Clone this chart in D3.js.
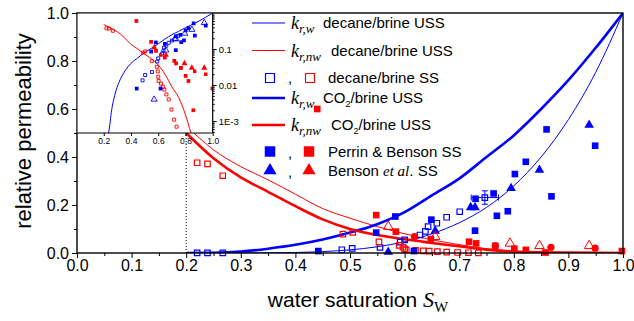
<!DOCTYPE html>
<html><head><meta charset="utf-8">
<script src="https://cdn.jsdelivr.net/npm/d3@7/dist/d3.min.js"></script>
<style>
html,body{margin:0;padding:0;background:#fff;}
svg{display:block;}
text{font-family:"Liberation Sans",Arial,sans-serif;fill:#000;}
</style></head><body>
<svg id="chart" width="634" height="321"></svg>
<script>
// ---------- tick labels ----------
const xTickVals = [0,0.1,0.2,0.3,0.4,0.5,0.6,0.7,0.8,0.9,1.0];
const yTickVals = [0,0.2,0.4,0.6,0.8,1.0];
const insetXTicks = [0.2,0.4,0.6,0.8,1.0];
const insetYTicks = [0.1,0.01,0.001];
const insetYLabels = ["0.1","0.01","1E-3"];

// ---------- model curves (main plot) ----------
const swGrid     = [0.2,0.25,0.3,0.35,0.4,0.45,0.5,0.55,0.6,0.65,0.7,0.75,0.8,0.85,0.9,0.95,1.0];
const krwDecane  = [0,0,0.0001,0.0006,0.0022,0.006,0.013,0.026,0.047,0.08,0.126,0.19,0.28,0.40,0.556,0.753,1.0];
const krnwDecane = [0.53,0.43,0.36,0.305,0.245,0.185,0.145,0.11,0.08,0.055,0.035,0.018,0.008,0.003,0.001,0.0002,0];
const krwCO2     = [0,0.001,0.006,0.018,0.034,0.056,0.085,0.12,0.17,0.24,0.31,0.40,0.49,0.60,0.72,0.855,1.0];
const krnwCO2    = [0.5,0.395,0.315,0.255,0.195,0.14,0.1,0.075,0.057,0.042,0.028,0.014,0.006,0.003,0.0015,0.0005,0];

// ---------- model curves (log inset) ----------
const insetSwBlue = [0.235,0.245,0.255,0.27,0.29,0.32,0.36,0.4,0.45,0.5,0.55,0.6,0.65,0.7,0.75,0.8,0.85,0.9,0.95,1.0];
const insetKrBlue = [0.00046,0.0008,0.0017,0.0035,0.007,0.014,0.026,0.04,0.057,0.08,0.105,0.14,0.19,0.25,0.31,0.39,0.48,0.6,0.77,1.0];
const insetSwRed  = [0.2,0.25,0.3,0.35,0.4,0.45,0.5,0.55,0.6,0.65,0.7,0.75,0.8,0.84];
const insetKrRed  = [0.48,0.38,0.3,0.21,0.135,0.1,0.072,0.054,0.036,0.02,0.009,0.0045,0.0015,0.00046];

// ---------- measured data ----------
// decane/brine SS (open squares)
const ssDecSwW  = [0.22,0.239,0.267,0.485,0.504,0.555,0.592,0.600,0.628,0.638,0.643,0.659,0.677,0.701,0.747];
const ssDecKrw  = [0.0003,0.0003,0.0003,0.0135,0.019,0.023,0.045,0.055,0.075,0.09,0.11,0.124,0.149,0.172,0.231];
const ssDecSwN  = [0.22,0.239,0.267,0.487,0.505,0.553,0.59,0.597,0.6,0.603,0.62,0.634,0.645,0.66,0.677,0.697,0.717,0.735];
const ssDecKrnw = [0.376,0.371,0.322,0.079,0.086,0.046,0.032,0.024,0.017,0.013,0.011,0.009,0.0075,0.0055,0.004,0.0021,0.0011,0.0007];
// error bar on one decane SS point
const errPoint = {s:0.747, k:0.231, ds:0.025, dk:0.028};
// Perrin & Benson SS (filled squares)
const pbSwW  = [0.442,0.548,0.583,0.617,0.649,0.729,0.730,0.763,0.769,0.789,0.802,0.822,0.860,0.869,0.949];
const pbKrw  = [0.008,0.085,0.152,0.008,0.139,0.093,0.226,0.248,0.155,0.174,0.329,0.38,0.515,0.236,0.447];
const pbSwN  = [0.44,0.548,0.584,0.648,0.718,0.731,0.766,0.801,0.822,0.858,0.998];
const pbKrnw = [0.6,0.158,0.089,0.058,0.047,0.040,0.030,0.018,0.013,0.002,0.008];
// Benson et al. SS (triangles)
const bSwW  = [0.57,0.656,0.721,0.729,0.795,0.847,0.938];
const bKrw  = [0.004,0.092,0.19,0.19,0.27,0.346,0.533];
const bSwN  = [0.57,0.656,0.793,0.847,0.938];
const bKrnw = [0.11,0.068,0.04,0.03,0.03];
// additional red filled circles
const cSwN  = [0.618,0.766,0.868,0.949];
const cKrnw = [0.068,0.03,0.024,0.02];

// ---------- drawing ----------
const BLUE="#0000ff", RED="#ff0000";
const svg = d3.select("#chart");
svg.append("rect").attr("width",634).attr("height",321).attr("fill","#fff");

const x = d3.scaleLinear().domain([0,1]).range([77,623]);
const y = d3.scaleLinear().domain([0,1]).range([253,13]);
const xi = d3.scaleLinear().domain([0,1]).range([76.5,212.7]);
const yi = d3.scaleLog().domain([Math.pow(10,-3.33),1]).range([133,13]);

const pts = (sw,kr)=>sw.map((s,i)=>({s:s,k:kr[i]}));
const defs = svg.append("defs");
defs.append("clipPath").attr("id","mainClip").append("rect").attr("x",77).attr("y",13).attr("width",546).attr("height",240);
defs.append("clipPath").attr("id","insetClip").append("rect").attr("x",77).attr("y",13).attr("width",136).attr("height",120);

function drawLine(g, data, xs, ys, color, w){
  const ln = d3.line().x(d=>xs(d.s)).y(d=>ys(d.k)).curve(d3.curveMonotoneX);
  g.append("path").datum(data).attr("d",ln).attr("fill","none").attr("stroke",color).attr("stroke-width",w).attr("stroke-linejoin","round");
}
function drawSym(g, data, xs, ys, type, area, color, filled, sw){
  g.selectAll(null).data(data).join("path")
    .attr("transform", d=>`translate(${xs(d.s)},${ys(d.k)})`)
    .attr("d", d3.symbol(type, area)())
    .attr("fill", filled?color:"none")
    .attr("stroke", filled?"none":color)
    .attr("stroke-width", sw||1.2);
}

// dotted line at Swi = 0.2
svg.append("line").attr("x1",x(0.2)).attr("x2",x(0.2)).attr("y1",y(0)).attr("y2",y(0.5))
  .attr("stroke","#000").attr("stroke-width",1).attr("stroke-dasharray","1,2");

const gMain = svg.append("g").attr("clip-path","url(#mainClip)");
drawLine(gMain, pts(swGrid,krwDecane), x, y, BLUE, 1);
drawLine(gMain, pts(swGrid,krnwDecane), x, y, RED, 1);
drawLine(gMain, pts(swGrid,krwCO2), x, y, BLUE, 2.6);
drawLine(gMain, pts(swGrid,krnwCO2), x, y, RED, 2.6);

const gPts = svg.append("g");
drawSym(gPts, pts(ssDecSwW,ssDecKrw), x, y, d3.symbolSquare, 30, BLUE, false, 1.2);
drawSym(gPts, pts(ssDecSwN,ssDecKrnw), x, y, d3.symbolSquare, 30, RED, false, 1.2);
// error bar
(function(){
  const e=errPoint, g=gPts.append("g").attr("stroke",BLUE).attr("stroke-width",1);
  g.append("line").attr("x1",x(e.s)).attr("x2",x(e.s)).attr("y1",y(e.k-e.dk)).attr("y2",y(e.k+e.dk));
  g.append("line").attr("x1",x(e.s)-3).attr("x2",x(e.s)+3).attr("y1",y(e.k-e.dk)).attr("y2",y(e.k-e.dk));
  g.append("line").attr("x1",x(e.s)-3).attr("x2",x(e.s)+3).attr("y1",y(e.k+e.dk)).attr("y2",y(e.k+e.dk));
  g.append("line").attr("x1",x(e.s-e.ds)).attr("x2",x(e.s+e.ds)).attr("y1",y(e.k)).attr("y2",y(e.k));
  g.append("line").attr("x1",x(e.s-e.ds)).attr("x2",x(e.s-e.ds)).attr("y1",y(e.k)-3).attr("y2",y(e.k)+3);
  g.append("line").attr("x1",x(e.s+e.ds)).attr("x2",x(e.s+e.ds)).attr("y1",y(e.k)-3).attr("y2",y(e.k)+3);
})();
drawSym(gPts, pts(pbSwW,pbKrw), x, y, d3.symbolSquare, 44, BLUE, true);
drawSym(gPts, pts(pbSwN,pbKrnw), x, y, d3.symbolSquare, 44, RED, true);
drawSym(gPts, pts(bSwW,bKrw), x, y, d3.symbolTriangle, 40, BLUE, true);
drawSym(gPts, pts(bSwN,bKrnw), x, y, d3.symbolTriangle, 40, RED, false, 1);
gPts.selectAll(null).data(pts(cSwN,cKrnw)).join("circle")
  .attr("cx",d=>x(d.s)).attr("cy",d=>y(d.k)).attr("r",3.6).attr("fill",RED);

// ---------- main axes ----------
const fontTick = "16px";
const gx = svg.append("g").attr("transform","translate(0,253)")
  .call(d3.axisBottom(x).tickValues(xTickVals).tickFormat(d3.format(".1f")).tickSize(5).tickSizeOuter(0).tickPadding(2));
gx.select(".domain").remove();
gx.selectAll("text").attr("font-size",fontTick).attr("font-family","'Liberation Sans',Arial,sans-serif").attr("fill","#000");
const gxm = svg.append("g").attr("transform","translate(0,253)")
  .call(d3.axisBottom(x).tickValues(xTickVals.slice(0,-1).map(v=>v+0.05)).tickFormat("").tickSize(3).tickSizeOuter(0));
gxm.select(".domain").remove();

const gy = svg.append("g").attr("transform","translate(77,0)")
  .call(d3.axisLeft(y).tickValues(yTickVals).tickFormat(d3.format(".1f")).tickSize(5).tickSizeOuter(0).tickPadding(3));
gy.select(".domain").remove();
gy.selectAll("text").attr("font-size",fontTick).attr("font-family","'Liberation Sans',Arial,sans-serif").attr("fill","#000");
const gym = svg.append("g").attr("transform","translate(77,0)")
  .call(d3.axisLeft(y).tickValues([0.1,0.3,0.5,0.7,0.9]).tickFormat("").tickSize(3).tickSizeOuter(0));
gym.select(".domain").remove();
svg.selectAll(".tick line").attr("stroke","#000");

svg.append("rect").attr("x",77).attr("y",13).attr("width",546).attr("height",240)
  .attr("fill","none").attr("stroke","#000").attr("stroke-width",1.4);

// ---------- inset ----------
const gIn = svg.append("g");
gIn.append("rect").attr("x",77.7).attr("y",13.7).attr("width",135).attr("height",119.3).attr("fill","#fff");
const gInC = gIn.append("g").attr("clip-path","url(#insetClip)");
drawLine(gInC, pts(insetSwBlue,insetKrBlue), xi, yi, BLUE, 1);
drawLine(gInC, pts(insetSwRed,insetKrRed), xi, yi, RED, 1);
const inPts = (sw,kr)=>pts(sw,kr).filter(d=>d.k>0);
drawSym(gInC, inPts(ssDecSwW,ssDecKrw), xi, yi, d3.symbolSquare, 9, BLUE, false, 0.9);
drawSym(gInC, inPts(ssDecSwN,ssDecKrnw), xi, yi, d3.symbolSquare, 9, RED, false, 0.9);
drawSym(gInC, inPts(pbSwW,pbKrw), xi, yi, d3.symbolSquare, 14, BLUE, true);
drawSym(gInC, inPts(pbSwN,pbKrnw), xi, yi, d3.symbolSquare, 14, RED, true);
drawSym(gInC, inPts(bSwW,bKrw), xi, yi, d3.symbolTriangle, 16, BLUE, false, 0.9);
drawSym(gInC, inPts(bSwN,bKrnw), xi, yi, d3.symbolTriangle, 16, RED, true);
drawSym(gInC, inPts(cSwN,cKrnw), xi, yi, d3.symbolSquare, 12, RED, true);

// inset axes
gIn.append("line").attr("x1",77).attr("x2",212.7).attr("y1",133).attr("y2",133).attr("stroke","#000").attr("stroke-width",1.2);
gIn.append("line").attr("x1",212.7).attr("x2",212.7).attr("y1",13).attr("y2",133).attr("stroke","#000").attr("stroke-width",1.2);
const gix = gIn.append("g").attr("transform","translate(0,133)")
  .call(d3.axisBottom(xi).tickValues(insetXTicks).tickFormat(d3.format(".1f")).tickSize(3).tickSizeOuter(0).tickPadding(2));
gix.select(".domain").remove();
gix.selectAll("text").attr("font-size","8.5px").attr("fill","#222");
const minorY = [];
for(let e=-4;e<0;e++){ for(let m=2;m<=9;m++){ const v=m*Math.pow(10,e); if(v>=yi.domain()[0] && v<1) minorY.push(v);} }
const giy = gIn.append("g").attr("transform","translate(212.7,0)")
  .call(d3.axisRight(yi).tickValues(insetYTicks).tickFormat((d,i)=>insetYLabels[i]).tickSize(4).tickSizeOuter(0).tickPadding(2));
giy.select(".domain").remove();
giy.selectAll("text").attr("font-size","9.5px").attr("fill","#222");
const giym = gIn.append("g").attr("transform","translate(212.7,0)")
  .call(d3.axisRight(yi).tickValues(minorY).tickFormat("").tickSize(2).tickSizeOuter(0));
giym.select(".domain").remove();
gIn.selectAll(".tick line").attr("stroke","#000");

// ---------- axis titles ----------
svg.append("text").attr("transform","translate(31,131) rotate(-90)").attr("text-anchor","middle")
  .attr("font-size","22px").text("relative permeability");
const xt = svg.append("text").attr("x",358).attr("y",307).attr("text-anchor","middle").attr("font-size","21px");
xt.append("tspan").text("water saturation ");
xt.append("tspan").attr("font-family","'Liberation Serif','Times New Roman',serif").attr("font-style","italic").attr("font-size","22px").text("S");
xt.append("tspan").attr("font-family","'Liberation Serif','Times New Roman',serif").attr("font-size","15px").attr("dy",5).text("W");

// ---------- legend ----------
const serif = "'Liberation Serif','Times New Roman',serif";
const lg = svg.append("g");
function krLabel(row, sub, restX, rest, co2){
  const t = lg.append("text").attr("x",291).attr("y",row+6);
  t.append("tspan").attr("font-family",serif).attr("font-style","italic").attr("font-size","18px").text("k");
  t.append("tspan").attr("font-family",serif).attr("font-style","italic").attr("font-size","13px").attr("dy",4).text(sub);
  if(co2){
    t.append("tspan").attr("x",restX).attr("dy",-5).attr("font-size","15px").text("CO");
    t.append("tspan").attr("font-size","9px").attr("dy",4).text("2");
    t.append("tspan").attr("font-size","15px").attr("dy",-4).text("/brine USS");
  } else {
    t.append("tspan").attr("x",restX).attr("dy",-5).attr("font-size","15px").text(rest);
  }
}
const rows = [23,50.5,78,98,125,151.5,170.5];
lg.append("line").attr("x1",252).attr("x2",285).attr("y1",rows[0]).attr("y2",rows[0]).attr("stroke",BLUE).attr("stroke-width",1);
krLabel(rows[0],"r,w",323,"decane/brine USS",false);
lg.append("line").attr("x1",252).attr("x2",285).attr("y1",rows[1]).attr("y2",rows[1]).attr("stroke",RED).attr("stroke-width",1);
krLabel(rows[1],"r,nw",331,"decane/brine USS",false);
lg.append("path").attr("transform",`translate(270,${rows[2]})`).attr("d",d3.symbol(d3.symbolSquare,81)()).attr("fill","none").attr("stroke",BLUE).attr("stroke-width",1.2);
lg.append("path").attr("transform",`translate(310,${rows[2]})`).attr("d",d3.symbol(d3.symbolSquare,81)()).attr("fill","none").attr("stroke",RED).attr("stroke-width",1.2);
lg.append("text").attr("x",288).attr("y",rows[2]+5).attr("font-size","15px").text(",");
lg.append("text").attr("x",328).attr("y",rows[2]+5).attr("font-size","15px").text("decane/brine SS");
lg.append("line").attr("x1",252).attr("x2",285).attr("y1",rows[3]).attr("y2",rows[3]).attr("stroke",BLUE).attr("stroke-width",2.6);
krLabel(rows[3],"r,w",323,"",true);
lg.append("line").attr("x1",252).attr("x2",285).attr("y1",rows[4]).attr("y2",rows[4]).attr("stroke",RED).attr("stroke-width",2.6);
krLabel(rows[4],"r,nw",331,"",true);
lg.append("path").attr("transform",`translate(270,${rows[5]})`).attr("d",d3.symbol(d3.symbolSquare,110)()).attr("fill",BLUE);
lg.append("path").attr("transform",`translate(309,${rows[5]})`).attr("d",d3.symbol(d3.symbolSquare,110)()).attr("fill",RED);
lg.append("text").attr("x",288).attr("y",rows[5]+6).attr("font-size","15px").text(",");
lg.append("text").attr("x",328).attr("y",rows[5]+5).attr("font-size","15px").text("Perrin & Benson SS");
lg.append("path").attr("transform",`translate(270,${rows[6]})`).attr("d",d3.symbol(d3.symbolTriangle,75)()).attr("fill",BLUE);
lg.append("path").attr("transform",`translate(309,${rows[6]})`).attr("d",d3.symbol(d3.symbolTriangle,75)()).attr("fill",RED);
lg.append("text").attr("x",288).attr("y",rows[6]+6).attr("font-size","15px").text(",");
const bt = lg.append("text").attr("x",328).attr("y",rows[6]+5).attr("font-size","15px");
bt.append("tspan").text("Benson ");
bt.append("tspan").attr("font-family",serif).attr("font-style","italic").text("et al");
bt.append("tspan").text(". SS");
</script>
</body></html>
